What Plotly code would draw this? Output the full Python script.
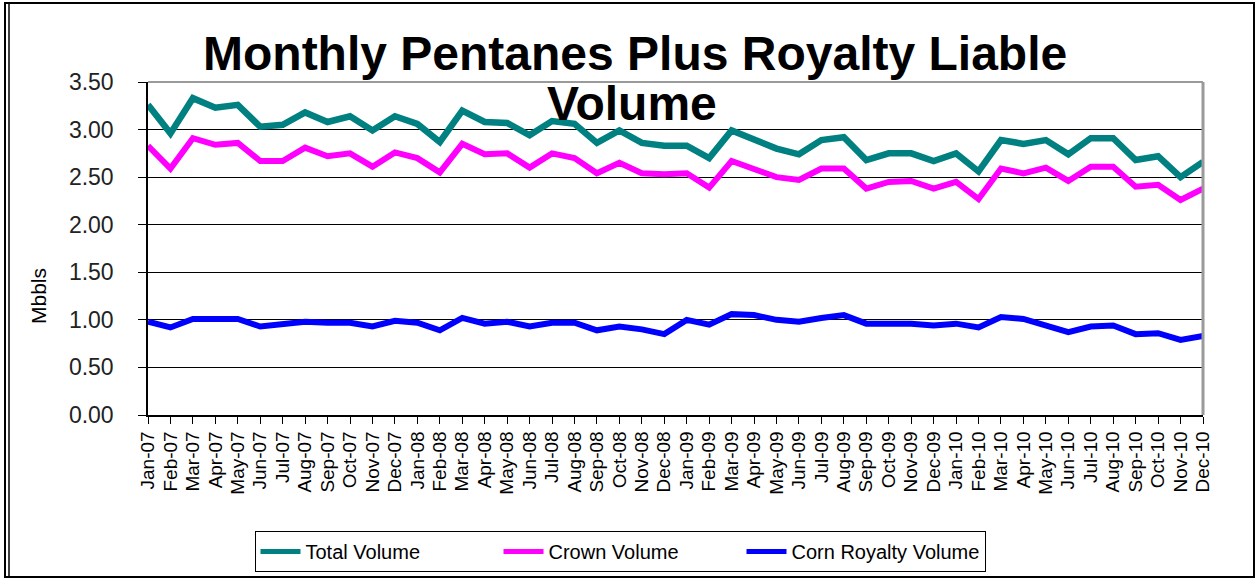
import plotly.graph_objects as go

months = ["Jan-07","Feb-07","Mar-07","Apr-07","May-07","Jun-07","Jul-07","Aug-07","Sep-07","Oct-07","Nov-07","Dec-07",
          "Jan-08","Feb-08","Mar-08","Apr-08","May-08","Jun-08","Jul-08","Aug-08","Sep-08","Oct-08","Nov-08","Dec-08",
          "Jan-09","Feb-09","Mar-09","Apr-09","May-09","Jun-09","Jul-09","Aug-09","Sep-09","Oct-09","Nov-09","Dec-09",
          "Jan-10","Feb-10","Mar-10","Apr-10","May-10","Jun-10","Jul-10","Aug-10","Sep-10","Oct-10","Nov-10","Dec-10"]

total_volume = [3.26, 2.96, 3.33, 3.23, 3.26, 3.03, 3.05, 3.18, 3.08, 3.14, 2.99, 3.14,
                3.06, 2.87, 3.20, 3.08, 3.07, 2.94, 3.09, 3.06, 2.86, 2.99, 2.86, 2.83,
                2.83, 2.70, 2.99, 2.89, 2.80, 2.74, 2.89, 2.92, 2.68, 2.75, 2.75, 2.67,
                2.75, 2.56, 2.89, 2.85, 2.89, 2.74, 2.91, 2.91, 2.68, 2.72, 2.50, 2.66]

crown_volume = [2.83, 2.59, 2.91, 2.84, 2.86, 2.67, 2.67, 2.81, 2.72, 2.75, 2.61, 2.76,
                2.70, 2.55, 2.85, 2.74, 2.75, 2.60, 2.75, 2.70, 2.54, 2.65, 2.54, 2.53,
                2.54, 2.39, 2.67, 2.59, 2.50, 2.47, 2.59, 2.59, 2.38, 2.45, 2.46, 2.38,
                2.45, 2.27, 2.59, 2.54, 2.60, 2.46, 2.61, 2.61, 2.40, 2.42, 2.26, 2.38]

corn_volume = [0.98, 0.92, 1.01, 1.01, 1.01, 0.93, 0.95, 0.98, 0.97, 0.97, 0.93, 0.99,
               0.97, 0.89, 1.02, 0.96, 0.98, 0.93, 0.97, 0.97, 0.89, 0.93, 0.90, 0.85,
               1.00, 0.95, 1.06, 1.05, 1.00, 0.98, 1.02, 1.05, 0.96, 0.96, 0.96, 0.94,
               0.96, 0.92, 1.03, 1.01, 0.94, 0.87, 0.93, 0.94, 0.85, 0.86, 0.79, 0.83]

series_names = ["Total Volume", "Crown Volume", "Corn Royalty Volume"]
series_colors = ["#008080", "#FF00FF", "#0000FF"]

W, H = 1257, 579
L, R, T, B = 148, 1203, 82, 415
FONT = "Arial, Liberation Sans, sans-serif"

fig = go.Figure()
for name, vals, col, w in zip(series_names, [total_volume, crown_volume, corn_volume], series_colors, [6.5, 6, 6]):
    fig.add_trace(go.Scatter(x=months, y=vals, mode="lines", name=name,
                             line=dict(color=col, width=w), cliponaxis=False))

def px_x(p):
    return (p - L) / (R - L)

def px_y(p):
    return (B - p) / (B - T)

shapes = [
    # outer border
    dict(type="rect", xref="paper", yref="paper", x0=px_x(5), x1=px_x(1254), y0=px_y(577), y1=px_y(3),
         line=dict(color="black", width=2), layer="below"),
    dict(type="line", xref="paper", yref="paper", x0=px_x(9), x1=px_x(9), y0=px_y(577), y1=px_y(3),
         line=dict(color="black", width=1.5), layer="below"),
    # plot-area border top and right (gray)
    dict(type="line", xref="paper", yref="paper", x0=0, x1=1, y0=1, y1=1,
         line=dict(color="#9a9a9a", width=2)),
    dict(type="line", xref="paper", yref="paper", x0=1, x1=1, y0=0, y1=1,
         line=dict(color="#9a9a9a", width=3)),
]

fig.update_layout(
    width=W, height=H, autosize=False,
    margin=dict(l=L, r=W - R, t=T, b=H - B, pad=0),
    paper_bgcolor="white", plot_bgcolor="white",
    font=dict(family=FONT, color="black"),
    showlegend=True,
    legend=dict(orientation="h", xref="paper", yref="container",
                x=px_x(620), y=1 - 572 / H, xanchor="center", yanchor="bottom",
                bordercolor="black", borderwidth=1, font=dict(size=20, family=FONT),
                itemwidth=40, entrywidth=188, entrywidthmode="pixels",
                tracegroupgap=0, itemsizing="constant"),
    shapes=shapes,
    annotations=[
        dict(text="<b>Monthly Pentanes Plus Royalty Liable</b>", xref="paper", yref="paper",
             x=px_x(635), y=px_y(53), xanchor="center", yanchor="middle", showarrow=False,
             font=dict(size=48, family=FONT, color="black")),
        dict(text="<b>Volume</b>", xref="paper", yref="paper",
             x=px_x(632), y=px_y(103), xanchor="center", yanchor="middle", showarrow=False,
             font=dict(size=48, family=FONT, color="black")),
        dict(text="Mbbls", xref="paper", yref="paper", x=px_x(38), y=px_y(296),
             xanchor="center", yanchor="middle", textangle=-90, showarrow=False,
             font=dict(size=21, family=FONT, color="black")),
    ],
)

fig.update_xaxes(type="category", range=[0, len(months) - 1], tickangle=-90,
                 tickmode="linear", dtick=1, automargin=False,
                 showline=True, linecolor="black", linewidth=1.5,
                 ticks="outside", ticklen=7, tickcolor="black", tickwidth=1,
                 showgrid=False, tickfont=dict(size=19, family=FONT, color="black"))
fig.update_yaxes(range=[0, 3.5], dtick=0.5, tickformat=".2f", automargin=False,
                 showline=True, linecolor="black", linewidth=1.5,
                 ticks="outside", ticklen=8, tickcolor="black", tickwidth=1,
                 ticklabelstandoff=20,
                 showgrid=True, gridcolor="black", gridwidth=1, zeroline=False,
                 tickfont=dict(size=23, family=FONT, color="#222"))

fig.write_html("out.html", config={"displayModeBar": False},
               post_script="document.body.style.margin='0';document.body.style.overflow='hidden';")
